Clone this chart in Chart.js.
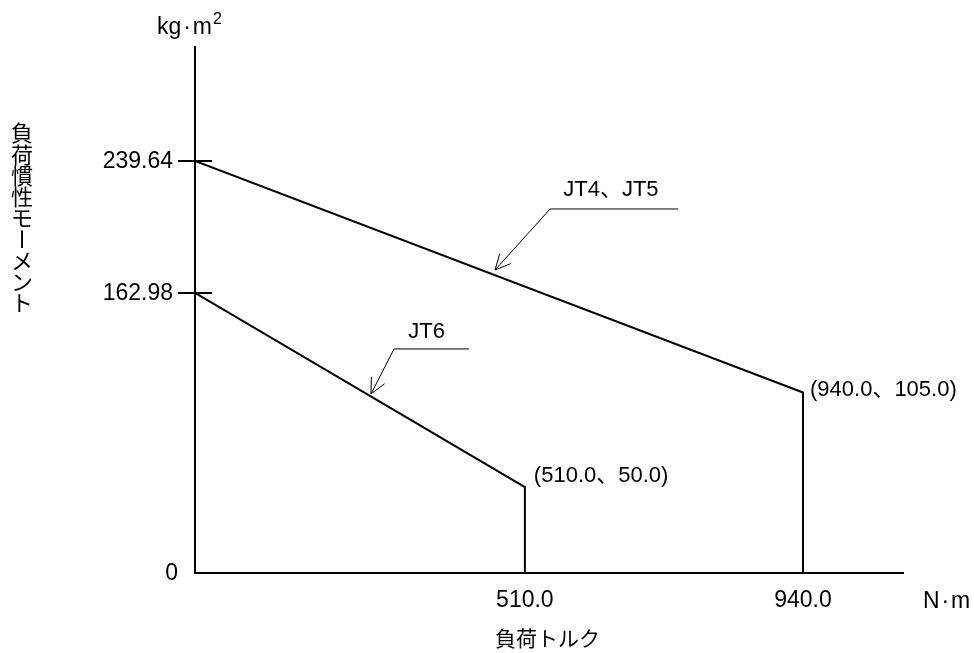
<!DOCTYPE html>
<html>
<head>
<meta charset="utf-8">
<script src="https://cdn.jsdelivr.net/npm/chart.js@4.4.0/dist/chart.umd.min.js"></script>
<style>
  html, body { margin: 0; padding: 0; background: #fff; }
  #wrap { width: 974px; height: 653px; position: relative; }
</style>
</head>
<body>
<div id="wrap"><canvas id="chart"></canvas></div>
<script>
// datos
const jt45X = [0, 940, 940];
const jt45Y = [239.64, 105.0, 0];
const jt6X = [0, 510, 510];
const jt6Y = [162.98, 50.0, 0];

const xTicks = [510, 940];
const xTickLabels = ['510.0', '940.0'];
const yTicks = [0, 162.98, 239.64];
const yTickLabels = ['0', '162.98', '239.64'];

const pointLabels = ['(940.0、105.0)', '(510.0、50.0)'];
const seriesNames = ['JT4、JT5', 'JT6'];

const FONT = '"Liberation Sans", "Noto Sans CJK JP", sans-serif';
const CJK = '"Noto Sans CJK JP", sans-serif';
const DOT = '\u200A·\u200A';

function toPoints(xs, ys) {
    return xs.map((x, i) => ({ x: x, y: ys[i] }));
}

// flecha con línea guía: fin horizontal -> codo -> punta
function leader(ctx, xs, ys, end, knee, tip) {
    const ex = xs.getPixelForValue(end[0]), ey = ys.getPixelForValue(end[1]);
    const kx = xs.getPixelForValue(knee[0]), ky = ys.getPixelForValue(knee[1]);
    const tx = xs.getPixelForValue(tip[0]), ty = ys.getPixelForValue(tip[1]);
    ctx.save();
    ctx.strokeStyle = '#000';
    ctx.lineWidth = 1;
    ctx.beginPath();
    ctx.moveTo(ex, ey);
    ctx.lineTo(kx, ky);
    ctx.lineTo(tx, ty);
    ctx.stroke();
    const ang = Math.atan2(ty - ky, tx - kx);
    const len = 17, spread = 0.45;
    ctx.beginPath();
    ctx.moveTo(tx - len * Math.cos(ang - spread), ty - len * Math.sin(ang - spread));
    ctx.lineTo(tx, ty);
    ctx.lineTo(tx - len * Math.cos(ang + spread), ty - len * Math.sin(ang + spread));
    ctx.stroke();
    ctx.restore();
}

const decor = {
    id: 'decor',
    afterDraw(chart) {
        const ctx = chart.ctx;
        const xs = chart.scales.x, ys = chart.scales.y;
        const area = chart.chartArea;
        ctx.save();
        ctx.fillStyle = '#000';
        ctx.strokeStyle = '#000';

        // marcas del eje y (cruzan el eje)
        ctx.lineWidth = 2;
        yTicks.forEach(v => {
            if (v === 0) return;
            const py = Math.round(ys.getPixelForValue(v));
            ctx.beginPath();
            ctx.moveTo(area.left - 17, py);
            ctx.lineTo(area.left + 17, py);
            ctx.stroke();
        });

        // etiquetas del eje y
        ctx.font = '23px ' + FONT;
        ctx.textAlign = 'right';
        ctx.textBaseline = 'middle';
        yTicks.forEach((v, i) => {
            const py = ys.getPixelForValue(v);
            const x = v === 0 ? area.left - 17 : area.left - 22;
            ctx.fillText(yTickLabels[i], x, py + 1);
        });

        // etiquetas del eje x
        ctx.textAlign = 'center';
        xTicks.forEach((v, i) => {
            ctx.fillText(xTickLabels[i], xs.getPixelForValue(v), area.bottom + 28);
        });

        // unidades
        ctx.textAlign = 'left';
        ctx.fillText('N' + DOT + 'm', area.right + 20, area.bottom + 29);
        ctx.textBaseline = 'alphabetic';
        ctx.fillText('kg' + DOT + 'm', area.left - 38, 34);
        const w = ctx.measureText('kg' + DOT + 'm').width;
        ctx.font = '16px ' + FONT;
        ctx.fillText('2', area.left - 38 + w + 1, 24);

        // etiquetas de puntos
        ctx.font = '22px ' + FONT;
        ctx.textBaseline = 'middle';
        ctx.fillText(pointLabels[0], xs.getPixelForValue(jt45X[1]) + 7, ys.getPixelForValue(jt45Y[1]) - 3);
        ctx.fillText(pointLabels[1], xs.getPixelForValue(jt6X[1]) + 9, ys.getPixelForValue(jt6Y[1]) - 11);

        // nombres de series
        ctx.textAlign = 'center';
        ctx.fillText(seriesNames[0], xs.getPixelForValue(643), ys.getPixelForValue(223));
        ctx.fillText(seriesNames[1], xs.getPixelForValue(358), ys.getPixelForValue(140));

        leader(ctx, xs, ys, [746.8, 211.7], [549, 211.7], [463.8, 176.2]);
        leader(ctx, xs, ys, [423.6, 130.3], [307.7, 130.3], [272.1, 104.1]);

        // títulos de ejes
        ctx.font = '21px ' + CJK;
        ctx.textAlign = 'center';
        ctx.fillText('負荷トルク', xs.getPixelForValue(545), area.bottom + 65);

        ctx.font = '22px ' + CJK;
        const title = '負荷慣性モーメント';
        [...title].forEach((ch, i) => {
            const cy = 133 + i * 21.25;
            if (ch === 'ー') {
                ctx.save();
                ctx.translate(22, cy);
                ctx.rotate(Math.PI / 2);
                ctx.fillText(ch, 0, 0);
                ctx.restore();
            } else {
                ctx.fillText(ch, 22, cy);
            }
        });
        ctx.restore();
    }
};

new Chart(document.getElementById('chart'), {
    type: 'scatter',
    data: {
        datasets: [{
            label: seriesNames[0],
            data: toPoints(jt45X, jt45Y),
            showLine: true,
            borderColor: '#000',
            borderWidth: 2,
            pointRadius: 0,
            tension: 0
        }, {
            label: seriesNames[1],
            data: toPoints(jt6X, jt6Y),
            showLine: true,
            borderColor: '#000',
            borderWidth: 2,
            pointRadius: 0,
            tension: 0
        }]
    },
    options: {
        responsive: true,
        maintainAspectRatio: false,
        animation: false,
        layout: {
            padding: { left: 195, right: 71, top: 47, bottom: 80 }
        },
        plugins: {
            legend: { display: false },
            tooltip: { enabled: false }
        },
        scales: {
            x: {
                type: 'linear',
                min: 0,
                max: 1094.6,
                ticks: { display: false },
                grid: { display: false, drawTicks: false },
                border: { display: true, color: '#000', width: 2 }
            },
            y: {
                type: 'linear',
                min: 0,
                max: 305.9,
                ticks: { display: false },
                grid: { display: false, drawTicks: false },
                border: { display: true, color: '#000', width: 2 }
            }
        }
    },
    plugins: [decor]
});
</script>
</body>
</html>
